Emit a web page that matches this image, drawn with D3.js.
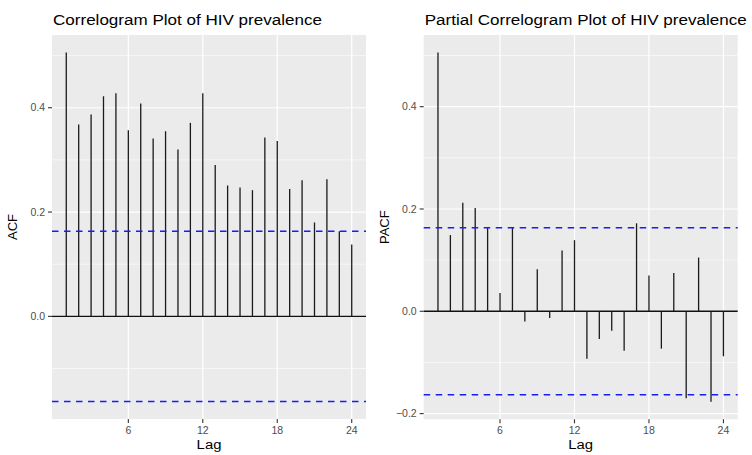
<!DOCTYPE html>
<html>
<head>
<meta charset="utf-8">
<script src="https://cdn.jsdelivr.net/npm/d3@7"></script>
<style>
  body { margin: 0; background: #fff; }
  svg { display: block; font-family: "Liberation Sans", Arial, sans-serif; }
</style>
</head>
<body>
<div id="chart"></div>
<script>
const lags = d3.range(1, 25);
const acfValues = [0.506, 0.368, 0.387, 0.422, 0.428, 0.357, 0.408, 0.341, 0.355, 0.320, 0.371, 0.428,
                   0.290, 0.251, 0.247, 0.242, 0.343, 0.336, 0.244, 0.261, 0.180, 0.263, 0.163, 0.138];
const pacfValues = [0.506, 0.149, 0.212, 0.202, 0.164, 0.036, 0.164, -0.020, 0.082, -0.013, 0.119, 0.139,
                    -0.093, -0.054, -0.038, -0.077, 0.172, 0.070, -0.073, 0.075, -0.170, 0.105, -0.177, -0.088];
const ci = 0.1633;
const xTicks = [6, 12, 18, 24];
const yTicks = [-0.2, 0.0, 0.2, 0.4];
const yMinor = [-0.3, -0.1, 0.1, 0.3, 0.5];

const width = 752, height = 455;

const svg = d3.select("#chart").append("svg")
    .attr("width", width)
    .attr("height", height);

// ggplot style expansion of a range by 5%
function expand(lo, hi) {
    const pad = (hi - lo) * 0.05;
    return [lo - pad, hi + pad];
}

function panel(opts) {
    const {left, right, top, bottom, values, title, ylab} = opts;
    const g = svg.append("g");

    const x = d3.scaleLinear()
        .domain(expand(d3.min(lags), d3.max(lags)))
        .range([left, right]);

    const y = d3.scaleLinear()
        .domain(expand(Math.min(d3.min(values), -ci), Math.max(d3.max(values), ci)))
        .range([bottom, top]);

    const [y0, y1] = y.domain();
    const inY = v => v >= y0 && v <= y1;

    g.append("rect")
        .attr("x", left).attr("y", top)
        .attr("width", right - left).attr("height", bottom - top)
        .attr("fill", "#EBEBEB");

    g.selectAll(".minor")
        .data(yMinor.filter(inY))
        .join("line")
        .attr("x1", left).attr("x2", right)
        .attr("y1", d => y(d)).attr("y2", d => y(d))
        .attr("stroke", "#fff").attr("stroke-width", 0.6);

    g.selectAll(".majorY")
        .data(yTicks.filter(inY))
        .join("line")
        .attr("x1", left).attr("x2", right)
        .attr("y1", d => y(d)).attr("y2", d => y(d))
        .attr("stroke", "#fff").attr("stroke-width", 1.2);

    g.selectAll(".majorX")
        .data(xTicks)
        .join("line")
        .attr("x1", d => x(d)).attr("x2", d => x(d))
        .attr("y1", top).attr("y2", bottom)
        .attr("stroke", "#fff").attr("stroke-width", 1.2);

    // zero line
    g.append("line")
        .attr("x1", left).attr("x2", right)
        .attr("y1", y(0)).attr("y2", y(0))
        .attr("stroke", "#111").attr("stroke-width", 1.4);

    // spikes
    g.selectAll(".spike")
        .data(lags)
        .join("line")
        .attr("x1", d => x(d)).attr("x2", d => x(d))
        .attr("y1", y(0))
        .attr("y2", (d, i) => y(values[i]))
        .attr("stroke", "#1a1a1a").attr("stroke-width", 1.3);

    // confidence bounds
    g.selectAll(".ci")
        .data([ci, -ci])
        .join("line")
        .attr("x1", left).attr("x2", right)
        .attr("y1", d => y(d)).attr("y2", d => y(d))
        .attr("stroke", "#1a1aff").attr("stroke-width", 1.4)
        .attr("stroke-dasharray", "6.5,5.5");

    // y axis
    const yt = g.selectAll(".ytick")
        .data(yTicks.filter(inY))
        .join("g")
        .attr("transform", d => `translate(0,${y(d)})`);
    yt.append("line")
        .attr("x1", left - 4).attr("x2", left)
        .attr("stroke", "#333").attr("stroke-width", 1.1);
    yt.append("text")
        .attr("x", left - 7)
        .attr("dy", "0.35em")
        .attr("text-anchor", "end")
        .attr("font-size", 10.5)
        .attr("fill", "#4D4D4D")
        .text(d => d3.format(".1f")(d));

    // x axis
    const xt = g.selectAll(".xtick")
        .data(xTicks)
        .join("g")
        .attr("transform", d => `translate(${x(d)},0)`);
    xt.append("line")
        .attr("y1", bottom).attr("y2", bottom + 4)
        .attr("stroke", "#333").attr("stroke-width", 1.1);
    xt.append("text")
        .attr("y", bottom + 15)
        .attr("text-anchor", "middle")
        .attr("font-size", 10.5)
        .attr("fill", "#4D4D4D")
        .text(d => d);

    g.append("text")
        .attr("transform", `translate(${(left + right) / 2},449) scale(1.1,1)`)
        .attr("text-anchor", "middle")
        .attr("font-size", 13.5)
        .attr("fill", "#000")
        .text("Lag");

    g.append("text")
        .attr("transform", `translate(${left - 35},${(top + bottom) / 2}) rotate(-90)`)
        .attr("text-anchor", "middle")
        .attr("font-size", 13)
        .attr("fill", "#000")
        .text(ylab);

    g.append("text")
        .attr("transform", `translate(${left + 1},25) scale(1.1,1)`)
        .attr("font-size", 15.5)
        .attr("fill", "#000")
        .text(title);
}

panel({left: 52, right: 366, top: 35, bottom: 419, values: acfValues,
       title: "Correlogram Plot of HIV prevalence", ylab: "ACF"});
panel({left: 423.7, right: 737.7, top: 35, bottom: 419.3, values: pacfValues,
       title: "Partial Correlogram Plot of HIV prevalence", ylab: "PACF"});
</script>
</body>
</html>
